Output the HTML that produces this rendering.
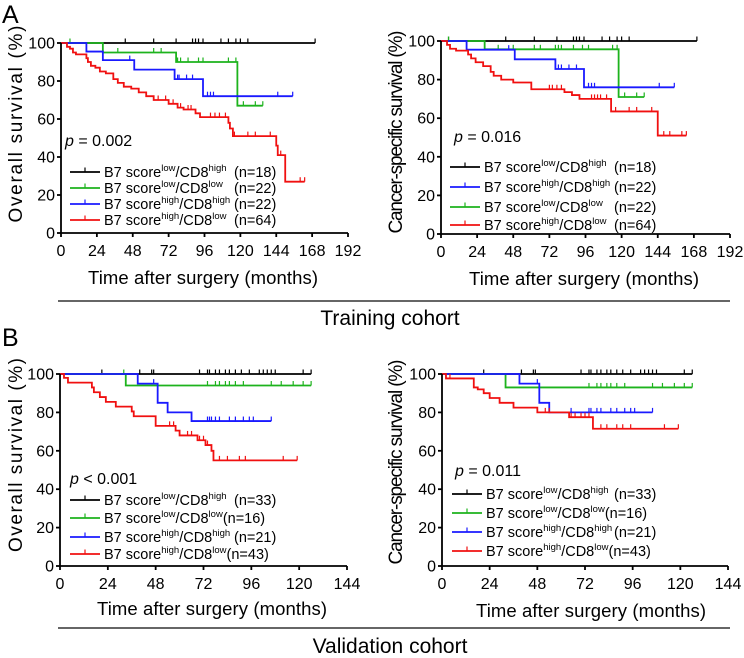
<!DOCTYPE html>
<html><head><meta charset="utf-8"><style>
html,body{margin:0;padding:0;background:#fff}
svg{display:block;font-family:"Liberation Sans",Arial,sans-serif}
</style></head><body>
<svg id="fig" width="744" height="658" viewBox="0 0 744 658" xmlns="http://www.w3.org/2000/svg">
<text x="2" y="23" font-size="25">A</text>
<text x="2" y="346" font-size="25">B</text>
<line x1="58" y1="301" x2="730" y2="301" stroke="#333" stroke-width="1.5"/>
<text x="390" y="325" font-size="21" text-anchor="middle">Training cohort</text>
<line x1="58" y1="628" x2="730" y2="628" stroke="#333" stroke-width="1.5"/>
<text x="390" y="653" font-size="21" text-anchor="middle">Validation cohort</text>
</svg>
<script>
// ---------- Panel A1: Overall survival, training ----------
const a1BlackSteps=[]; const a1BlackVals=[]; const a1BlackEnd=170;
const a1BlackCens=[43,62,77,88,90,92,95,107,112,117,120,125,170];
const a1GreenSteps=[28,77,118]; const a1GreenVals=[95,90,67]; const a1GreenEnd=135;
const a1GreenCens=[6,38,62,67,78,80,85,92,95,112,117,122,130,135];
const a1BlueSteps=[17,28,49,76,95]; const a1BlueVals=[95.5,91,86,81,72]; const a1BlueEnd=155;
const a1BlueCens=[46,78,79,84,88,98,100,102,145,155];
const a1RedSteps=[4,6,8,10,17,18,20,23,26,30,35,38,42,47,52,57,62,72,78,82,90,93,112,113,115,144,145,150];
const a1RedVals=[98,97,95,94,92,90,88,87,85,84,81,79,77,76,74,72,70,68,66,65,63,61,58,55,51,46,41,27];
const a1RedEnd=163;
const a1RedCens=[65,70,75,80,85,87,100,103,106,110,116,125,130,140,147,160,163];
// ---------- Panel A2: Cancer-specific survival, training ----------
const a2BlackSteps=[]; const a2BlackVals=[]; const a2BlackEnd=170;
const a2BlackCens=[5,43,62,77,88,90,92,95,107,112,117,120,125,170];
const a2GreenSteps=[29,118]; const a2GreenVals=[95.7,71]; const a2GreenEnd=135;
const a2GreenCens=[5,38,48,62,66,76,78,80,88,94,98,114,117,122,130,135];
const a2BlueSteps=[17,49,76,95]; const a2BlueVals=[95.5,90.5,85.5,76]; const a2BlueEnd=155;
const a2BlueCens=[45,78,80,85,90,98,100,102,145,155];
const a2RedSteps=[4,6,10,18,20,23,28,33,35,40,48,60,82,87,92,113,144];
const a2RedVals=[98,96,95,93,91,89,87,84,82,80,78.5,75,73.5,72,70,63.5,51];
const a2RedEnd=163;
const a2RedCens=[72,74,77,80,100,102,104,106,110,116,125,130,140,148,152,160,163];
// ---------- Panel B1: Overall survival, validation ----------
const b1BlackSteps=[]; const b1BlackVals=[]; const b1BlackEnd=126;
const b1BlackCens=[21,40,46,47,70,74,75,78,80,83,85,88,91,95,100,102,104,106,108,122,126];
const b1GreenSteps=[33]; const b1GreenVals=[94]; const b1GreenEnd=126;
const b1GreenCens=[32,74,78,80,83,85,88,92,106,111,117,122,126];
const b1BlueSteps=[39,49,54,66]; const b1BlueVals=[95,85,80,75.5]; const b1BlueEnd=106;
const b1BlueCens=[47,74,75,76,78,80,85,88,92,95,97,106];
const b1RedSteps=[2,4,16,17,20,23,28,36,37,48,58,60,69,73,76,77];
const b1RedVals=[98,95.5,93,90.5,88,85.5,83,80.5,78,73,70.5,68,65.5,63,60,55];
const b1RedEnd=119;
const b1RedCens=[2,55,57,60,64,66,70,72,74,80,84,90,93,112,119];
// ---------- Panel B2: Cancer-specific survival, validation ----------
const b2BlackSteps=[]; const b2BlackVals=[]; const b2BlackEnd=126;
const b2BlackCens=[21,40,46,47,70,74,75,78,80,83,85,88,91,95,100,102,104,106,108,122,126];
const b2GreenSteps=[32]; const b2GreenVals=[93]; const b2GreenEnd=126;
const b2GreenCens=[74,78,80,83,85,88,92,106,111,117,122,126];
const b2BlueSteps=[39,49,54]; const b2BlueVals=[95,85,80]; const b2BlueEnd=106;
const b2BlueCens=[48,65,74,75,78,80,85,88,92,95,97,106];
const b2RedSteps=[2,16,18,21,24,29,36,48,64,76];
const b2RedVals=[97.7,93,92,90,87.5,85,82.5,80,77.5,71.5];
const b2RedEnd=119;
const b2RedCens=[4,52,54,65,67,70,72,74,80,83,88,91,95,112,119];
// ---------- ticks ----------
const yTicks=[0,20,40,60,80,100];
const xTicksA=[0,24,48,72,96,120,144,168,192];
const xTicksB=[0,24,48,72,96,120,144];

const NS="http://www.w3.org/2000/svg";
const svg=document.getElementById('fig');
function mk(tag,attrs,parent){const e=document.createElementNS(NS,tag);for(const k in attrs)e.setAttribute(k,attrs[k]);(parent||svg).appendChild(e);return e;}
const COL={black:'#000',green:'#1db31d',blue:'#1a1aff',red:'#f01010'};

function panel(cfg){
  const g=mk('g',{});
  
  
  const sx=v=>cfg.x0+(v/cfg.xmax)*(cfg.x1-cfg.x0);
  const sy=v=>cfg.y0-(v/100)*(cfg.y0-cfg.y1);
  cfg.series.forEach(s=>{
    let d='M'+sx(0)+','+sy(100);
    s.steps.forEach((t,i)=>{d+=' H'+sx(t)+' V'+sy(s.vals[i]);});
    d+=' H'+sx(s.end);
    const p=mk('path',{d:d,fill:'none',stroke:COL[s.color],'stroke-width':1.8},g);
    
    
    s.cens.forEach(c=>{
      let v=100;s.steps.forEach((t,i)=>{if(t<=c)v=s.vals[i];});
      const l=mk('line',{x1:sx(c),x2:sx(c),y1:sy(v),y2:sy(v)-4.5,stroke:COL[s.color],'stroke-width':1.2},g);
      
      
    });
  });
  const ax=mk('path',{d:'M'+cfg.x0+','+cfg.y1+' V'+cfg.y0+' H'+cfg.x1,fill:'none',stroke:'#000','stroke-width':1.8},g);
  
  
  yTicks.forEach(v=>{
    const l=mk('line',{x1:cfg.x0-4,x2:cfg.x0,y1:sy(v),y2:sy(v),stroke:'#000','stroke-width':1.8},g);
    
    
    const t=mk('text',{x:cfg.x0-6,y:sy(v)+5.5,'font-size':16,'text-anchor':'end'},g);
    
    
    t.textContent=v;
  });
  cfg.xticks.forEach(v=>{
    const l=mk('line',{x1:sx(v),x2:sx(v),y1:cfg.y0,y2:cfg.y0+4,stroke:'#000','stroke-width':1.8},g);
    
    
    const t=mk('text',{x:sx(v),y:cfg.y0+23,'font-size':16,'text-anchor':'middle'},g);
    
    
    t.textContent=v;
  });
  const xt=mk('text',{x:cfg.xtx,y:cfg.xty,'font-size':18.5,'text-anchor':'middle',textLength:230},g);
  
  
  xt.textContent='Time after surgery (months)';
  const yt=mk('text',{x:0,y:0,'font-size':19,'text-anchor':'middle',textLength:cfg.ytl,transform:'translate('+cfg.ytx+','+cfg.yty+') rotate(-90)'},g);
  
  
  yt.textContent=cfg.ytitle;
  const pt=mk('text',{x:cfg.px,y:cfg.py,'font-size':16},g);
  
  
  pt.innerHTML='<tspan font-style="italic">p</tspan> '+cfg.ptext;
  cfg.legend.forEach((L,i)=>{
    const y=cfg.ly[i];
    const ll=mk('line',{x1:cfg.lx,x2:cfg.lx+30,y1:y,y2:y,stroke:COL[L.color],'stroke-width':1.8},g);
    
    
    mk('line',{x1:cfg.lx+15,x2:cfg.lx+15,y1:y,y2:y-4.5,stroke:COL[L.color],'stroke-width':1.2},g);
    const t=mk('text',{x:cfg.tx,y:y+5,'font-size':14.5},g);
    
    
    t.innerHTML='B7 score<tspan font-size="9.5" dy="-6">'+L.a+'</tspan><tspan dy="6">/CD8</tspan><tspan font-size="9.5" dy="-6">'+L.b+'</tspan><tspan dy="6">'+(L.tight?'(n='+L.n+')':'')+'</tspan>';
    if(!L.tight){
      const n=mk('text',{x:cfg.nx,y:y+5,'font-size':14.5},g);
      
      
      n.textContent='(n='+L.n+')';
    }
  });
}
function S(color,steps,vals,end,cens){return {color,steps,vals,end,cens};}

panel({name:'panel-a-overall-survival',x0:61,x1:348,y0:233,y1:43,xmax:192,xticks:xTicksA,
 xtx:203,xty:284,ytitle:'Overall survival (%)',ytx:22,yty:124,ytl:197,px:65,py:146,ptext:'= 0.002',
 lx:70,tx:104,nx:234,ly:[172,188,204,220],
 series:[S('black',a1BlackSteps,a1BlackVals,a1BlackEnd,a1BlackCens),S('green',a1GreenSteps,a1GreenVals,a1GreenEnd,a1GreenCens),
   S('blue',a1BlueSteps,a1BlueVals,a1BlueEnd,a1BlueCens),S('red',a1RedSteps,a1RedVals,a1RedEnd,a1RedCens)],
 legend:[{color:'black',a:'low',b:'high',n:18},{color:'green',a:'low',b:'low',n:22},{color:'blue',a:'high',b:'high',n:22},{color:'red',a:'high',b:'low',n:64}]});

panel({name:'panel-a-cancer-specific-survival',x0:441,x1:730,y0:234,y1:41,xmax:192,xticks:xTicksA,
 xtx:584,xty:285,ytitle:'Cancer-specific survival (%)',ytx:402,yty:132,ytl:203,px:454,py:142,ptext:'= 0.016',
 lx:450,tx:484,nx:614,ly:[167,187,207,225],
 series:[S('black',a2BlackSteps,a2BlackVals,a2BlackEnd,a2BlackCens),S('green',a2GreenSteps,a2GreenVals,a2GreenEnd,a2GreenCens),
   S('blue',a2BlueSteps,a2BlueVals,a2BlueEnd,a2BlueCens),S('red',a2RedSteps,a2RedVals,a2RedEnd,a2RedCens)],
 legend:[{color:'black',a:'low',b:'high',n:18},{color:'blue',a:'high',b:'high',n:22},{color:'green',a:'low',b:'low',n:22},{color:'red',a:'high',b:'low',n:64}]});

panel({name:'panel-b-overall-survival',x0:60,x1:347,y0:566,y1:374,xmax:144,xticks:xTicksB,
 xtx:212,xty:615,ytitle:'Overall survival (%)',ytx:22,yty:455,ytl:194,px:70,py:484,ptext:'< 0.001',
 lx:70,tx:104,nx:234,ly:[500,518,537,554],
 series:[S('black',b1BlackSteps,b1BlackVals,b1BlackEnd,b1BlackCens),S('green',b1GreenSteps,b1GreenVals,b1GreenEnd,b1GreenCens),
   S('blue',b1BlueSteps,b1BlueVals,b1BlueEnd,b1BlueCens),S('red',b1RedSteps,b1RedVals,b1RedEnd,b1RedCens)],
 legend:[{color:'black',a:'low',b:'high',n:33},{color:'green',a:'low',b:'low',n:16,tight:true},{color:'blue',a:'high',b:'high',n:21},{color:'red',a:'high',b:'low',n:43,tight:true}]});

panel({name:'panel-b-cancer-specific-survival',x0:442,x1:728,y0:566,y1:374,xmax:144,xticks:xTicksB,
 xtx:591,xty:617,ytitle:'Cancer-specific survival (%)',ytx:402,yty:462,ytl:205,px:455,py:476,ptext:'= 0.011',
 lx:452,tx:486,nx:614,ly:[494,513,532,551],
 series:[S('black',b2BlackSteps,b2BlackVals,b2BlackEnd,b2BlackCens),S('green',b2GreenSteps,b2GreenVals,b2GreenEnd,b2GreenCens),
   S('blue',b2BlueSteps,b2BlueVals,b2BlueEnd,b2BlueCens),S('red',b2RedSteps,b2RedVals,b2RedEnd,b2RedCens)],
 legend:[{color:'black',a:'low',b:'high',n:33},{color:'green',a:'low',b:'low',n:16,tight:true},{color:'blue',a:'high',b:'high',n:21},{color:'red',a:'high',b:'low',n:43,tight:true}]});
</script>
</body></html>
